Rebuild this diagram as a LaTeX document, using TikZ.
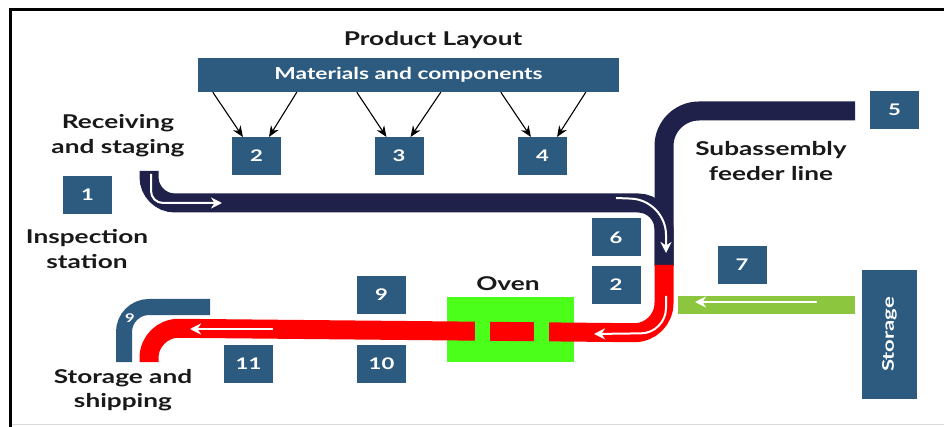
\documentclass[tikz,border=0pt]{standalone}
\usepackage{fontspec}
\newfontfamily\lbl{Lato}[FakeStretch=1.38]
\usetikzlibrary{arrows.meta}
\definecolor{steel}{HTML}{2D5B80}
\definecolor{navyline}{HTML}{20214A}
\definecolor{beltred}{HTML}{FF0000}
\definecolor{ovengreen}{HTML}{4CFF1A}
\definecolor{feedgreen}{HTML}{8CC63F}

\begin{document}
\begin{tikzpicture}[x=1pt,y=-1pt,
  stn/.style={fill=steel, text=white, font=\lbl\bfseries\fontsize{16}{16}\selectfont,
    minimum width=49pt, minimum height=38pt, inner sep=0pt},
  lab/.style={font=\lbl\bfseries\fontsize{19}{24.5}\selectfont, align=center, text=black!90},
  feed/.style={-{Stealth[length=11pt,width=9pt]}, line width=1.1pt, black, shorten >=1pt},
  flow/.style={white, line width=2pt, -{Stealth[length=11pt,width=11pt,inset=3.5pt]}},
  belt/.style={line width=19pt, line cap=butt}
]
\useasboundingbox (0,0) rectangle (944,427);
\fill[white] (0,0) rectangle (944,427);

% frame
\draw[black!15, line width=1pt] (10,424) -- (944,424);
\draw[line width=3pt] (10,427) -- (10,10) -- (944,10);

% title and supply bar
\node[lab] (title) at (433,40) {Product Layout};
\node[fill=steel, text=white, font=\lbl\bfseries\fontsize{16.5}{16.5}\selectfont,
  minimum width=421pt, minimum height=34pt, inner sep=0pt] (mat) at (408.5,75) {Materials and components};

% work stations
\node[stn] (s1)  at (87.5,195) {1};
\node[stn] (s2)  at (256.5,156) {2};
\node[stn] (s3)  at (399,156) {3};
\node[stn] (s4)  at (542.5,156) {4};
\node[stn] (s5)  at (894.5,110) {5};
\node[stn] (s6)  at (616,237.5) {6};
\node[stn] (s2b) at (616,285) {2};
\node[stn] (s7)  at (742,265) {7};
\node[stn] (s9)  at (381.5,295) {9};
\node[stn] (s10) at (381.5,364) {10};
\node[stn] (s11) at (248.5,364) {11};
\node[fill=steel, minimum width=55pt, minimum height=129pt, inner sep=0pt] (store) at (889.5,334.5) {};
\node[rotate=90, text=white, font=\lbl\bfseries\fontsize{16}{16}\selectfont] (storetxt) at (store.center) {Storage};

% feeds from the supply bar
\draw[feed] ([xshift=15pt]mat.south west)  -- ([xshift=-13pt,yshift=-1pt]s2.north);
\draw[feed] ([xshift=99pt]mat.south west)  -- ([xshift=12pt,yshift=-1pt]s2.north);
\draw[feed] ([xshift=159pt]mat.south west) -- ([xshift=-12pt,yshift=-1pt]s3.north);
\draw[feed] ([xshift=243pt]mat.south west) -- ([xshift=11pt,yshift=-1pt]s3.north);
\draw[feed] ([xshift=303pt]mat.south west) -- ([xshift=-11pt,yshift=-1pt]s4.north);
\draw[feed] ([xshift=388pt]mat.south west) -- ([xshift=14pt,yshift=-1pt]s4.north);

% oven
\node[fill=ovengreen, minimum width=127pt, minimum height=65pt, inner sep=0pt] (oven) at (510.5,329.5) {};
\node[lab] (ovenlbl) at (508,284) {Oven};

% main line (dark) and subassembly feeder line
\draw[belt, navyline, rounded corners=26pt] (149,171) -- (149,203) -- (664,203) -- (664,266);
\draw[belt, navyline, rounded corners=35pt] (855,111) -- (664,111) -- (664,266);
% finishing line (red)
\draw[belt, beltred, rounded corners=30pt] (664,265) -- (664,333) -- (149,328) -- (149,362);
% gaps of the belt inside the oven
\fill[ovengreen] (475,315) rectangle (490,345);
\fill[ovengreen] (534,315) rectangle (549,345);

% storage feeder (green) and return bend
\fill[feedgreen] (678,296) rectangle (855,314);
\draw[line width=16pt, steel, line cap=butt, rounded corners=25pt] (210,307) -- (124,307) -- (124,362);
\node[text=white, font=\lbl\bfseries\fontsize{12}{12}\selectfont, inner sep=0pt] (n9) at (130,318) {9};

% flow directions
\draw[flow, rounded corners=12pt] (151,174) -- (151,203) -- (222,203);
\draw[flow, rounded corners=35pt] (616,198) -- (666,200) -- (666,253);
\draw[flow, rounded corners=25pt] (666,296) -- (666,333) -- (594,334);
\draw[flow] (273,329) -- (190,329);
\draw[flow] (817,302) -- (695,302);

% labels
\node[lab] (recv)  at (118,135.5) {Receiving\\and staging};
\node[lab] (insp)  at (87,249) {Inspection\\station};
\node[lab] (sub)   at (771,161) {Subassembly\\feeder line};
\node[lab] (ship)  at (123,390) {Storage and\\shipping};
\end{tikzpicture}
\end{document}
